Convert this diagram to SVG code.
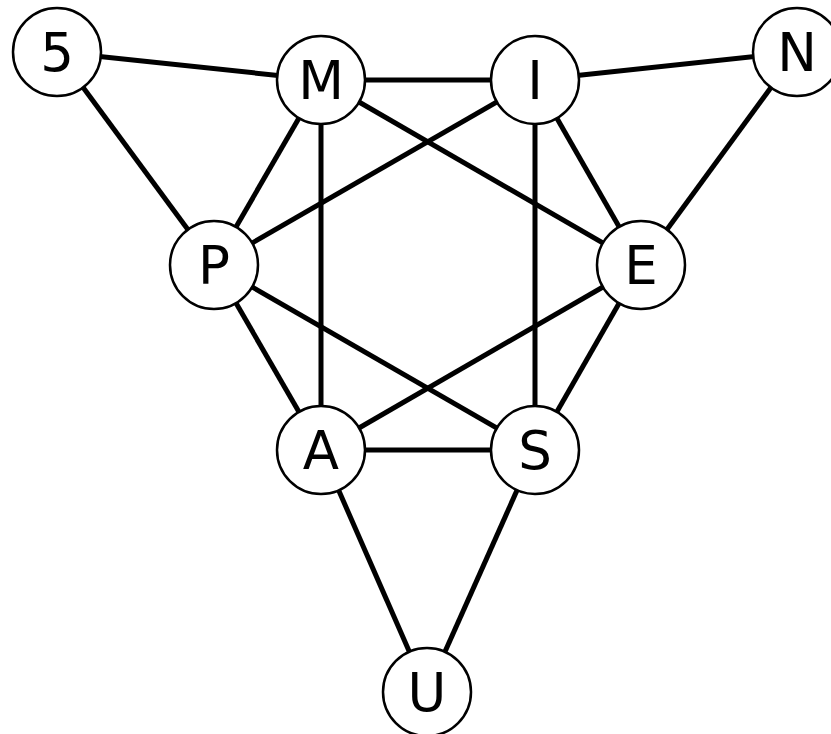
<svg xmlns="http://www.w3.org/2000/svg" width="831" height="734" viewBox="0 0 831 734">
<style>
.e{stroke:#000;stroke-width:5;fill:none}
.n circle{fill:#fff;stroke:#000;stroke-width:2.5}
.n text{font-family:"DejaVu Sans",sans-serif;font-size:53px;text-anchor:middle;dominant-baseline:central;fill:#000}
</style>
<rect width="831" height="734" fill="#fff"/>
<g id="edges">
<line class="e" x1="57" y1="52" x2="321" y2="80"/>
<line class="e" x1="57" y1="52" x2="214" y2="265"/>
<line class="e" x1="321" y1="80" x2="535" y2="80"/>
<line class="e" x1="535" y1="80" x2="797" y2="52"/>
<line class="e" x1="797" y1="52" x2="641" y2="265"/>
<line class="e" x1="321" y1="80" x2="214" y2="265"/>
<line class="e" x1="321" y1="80" x2="321" y2="450"/>
<line class="e" x1="321" y1="80" x2="641" y2="265"/>
<line class="e" x1="535" y1="80" x2="214" y2="265"/>
<line class="e" x1="535" y1="80" x2="535" y2="450"/>
<line class="e" x1="535" y1="80" x2="641" y2="265"/>
<line class="e" x1="214" y1="265" x2="321" y2="450"/>
<line class="e" x1="214" y1="265" x2="535" y2="450"/>
<line class="e" x1="641" y1="265" x2="321" y2="450"/>
<line class="e" x1="641" y1="265" x2="535" y2="450"/>
<line class="e" x1="321" y1="450" x2="535" y2="450"/>
<line class="e" x1="321" y1="450" x2="427" y2="692"/>
<line class="e" x1="535" y1="450" x2="427" y2="692"/>
</g>
<g id="n5" class="n"><circle cx="57" cy="52" r="44"/><text x="57" y="52">5</text></g>
<g id="nM" class="n"><circle cx="321" cy="80" r="44"/><text x="321" y="80">M</text></g>
<g id="nI" class="n"><circle cx="535" cy="80" r="44"/><text x="535" y="80">I</text></g>
<g id="nN" class="n"><circle cx="797" cy="52" r="44"/><text x="797" y="52">N</text></g>
<g id="nP" class="n"><circle cx="214" cy="265" r="44"/><text x="214" y="265">P</text></g>
<g id="nE" class="n"><circle cx="641" cy="265" r="44"/><text x="641" y="265">E</text></g>
<g id="nA" class="n"><circle cx="321" cy="450" r="44"/><text x="321" y="450">A</text></g>
<g id="nS" class="n"><circle cx="535" cy="450" r="44"/><text x="535" y="450">S</text></g>
<g id="nU" class="n"><circle cx="427" cy="692" r="44"/><text x="427" y="692">U</text></g>
</svg>
